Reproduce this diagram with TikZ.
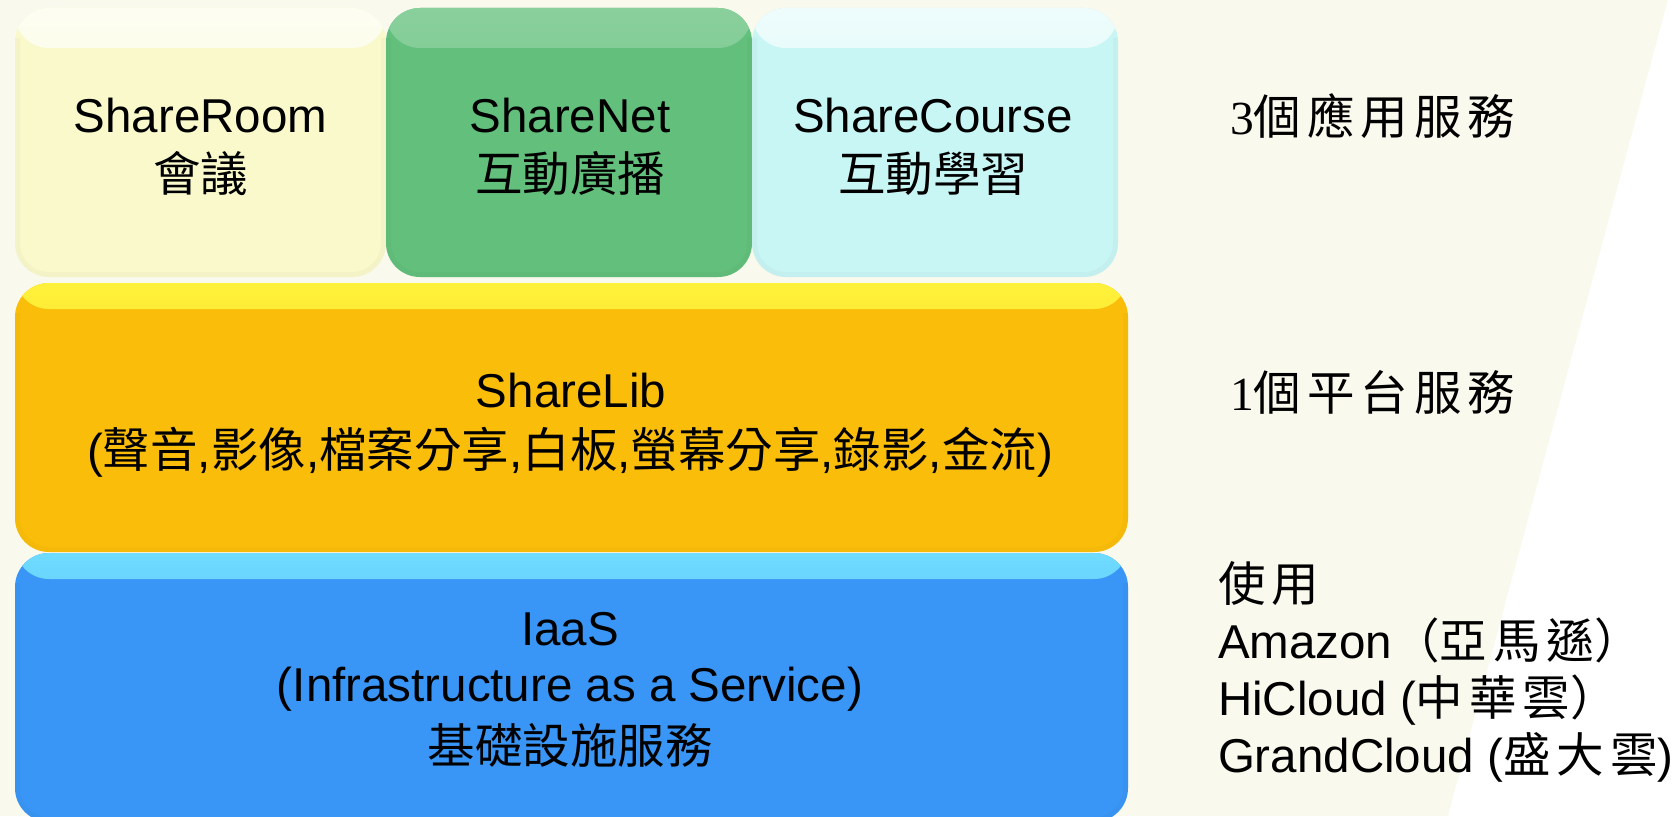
\documentclass[tikz,border=0pt]{standalone}
\usepackage{fontspec}
\setmainfont{Liberation Sans}
\newfontfamily\cjk{Noto Sans CJK TC}
\newfontfamily\serifdigit{Liberation Serif}
\newcommand\cjkgap{\hspace{6pt}}
\definecolor{bgcream}{HTML}{FAF9ED}
\definecolor{roomfill}{HTML}{F9F9CC}
\definecolor{netfill}{HTML}{63C07C}
\definecolor{coursefill}{HTML}{C8F6F5}
\definecolor{libfill}{HTML}{FABE0A}
\definecolor{liblight}{HTML}{FFF23C}
\definecolor{iaasfill}{HTML}{3A96F6}
\definecolor{iaaslight}{HTML}{70DCFF}
\tikzset{
  layerbox/.style={rectangle, rounded corners=34pt, inner sep=0pt, outer sep=0pt, draw=none},
  tophl/.style n args={3}{path picture={
    \shade[top color=#1, middle color=#1!25!#2, bottom color=#2]
      ([yshift=2pt]path picture bounding box.north west) rectangle ([yshift=-#3]path picture bounding box.north east);
    \draw[line width=10pt, #2!85!black, opacity=0.15]
      ([yshift=-30pt]path picture bounding box.north west) -- (path picture bounding box.south west)
      -- (path picture bounding box.south east) -- ([yshift=-30pt]path picture bounding box.north east);
  }},
  lbl/.style={inner sep=0pt, outer sep=0pt, anchor=base, font=\fontsize{47.5}{57}\selectfont},
}
\begin{document}
\begin{tikzpicture}[x=1pt,y=-1pt]
\useasboundingbox (0,0) rectangle (1672,816);
\fill[bgcream] (0,0) rectangle (1672,816);
\fill[white] (1668,0) -- (1672,0) -- (1672,816) -- (1448,816) -- cycle;

% top row: three application services
\node[layerbox, fill=roomfill, minimum width=371pt, minimum height=269pt, tophl={roomfill!25!white}{roomfill}{40pt}] (room) at (200.5,142.5) {};
\node[layerbox, fill=netfill, minimum width=366pt, minimum height=269pt, tophl={netfill!75!white}{netfill}{40pt}] (net) at (569,142.5) {};
\node[layerbox, fill=coursefill, minimum width=366pt, minimum height=269pt, tophl={coursefill!30!white}{coursefill}{40pt}] (course) at (935,142.5) {};
% platform
\node[layerbox, fill=libfill, minimum width=1113pt, minimum height=269pt, tophl={liblight}{libfill}{26pt}] (lib) at (571.5,417.5) {};
% iaas
\node[layerbox, fill=iaasfill, minimum width=1113pt, minimum height=269pt, tophl={iaaslight}{iaasfill}{26pt}] (iaas) at (571.5,687.5) {};

% texts in boxes
\node[lbl] (roomA) at (200.5,132.5) {ShareRoom};
\node[lbl] (roomB) at (200.5,191) {\cjk 會議};
\node[lbl] (netA) at (570,132.5) {ShareNet};
\node[lbl] (netB) at (570,191) {\cjk 互動廣播};
\node[lbl] (courseA) at (933,132.5) {ShareCourse};
\node[lbl] (courseB) at (933,191) {\cjk 互動學習};
\node[lbl] (libA) at (571,407) {ShareLib};
\node[lbl] (libB) at (570,467) {({\cjk 聲音},{\cjk 影像},{\cjk 檔案分享},{\cjk 白板},{\cjk 螢幕分享},{\cjk 錄影},{\cjk 金流})};
\node[lbl] (iaasA) at (570,645) {IaaS};
\node[lbl] (iaasB) at (570,701) {(Infrastructure as a Service)};
\node[lbl] (iaasC) at (570,763) {\cjk 基礎設施服務};

% right labels
\node[lbl, anchor=base west] (appl) at (1230,134) {{\serifdigit 3}\cjk 個\cjkgap 應\cjkgap 用\cjkgap 服\cjkgap 務};
\node[lbl, anchor=base west] (plat) at (1230,410) {{\serifdigit 1}\cjk 個\cjkgap 平\cjkgap 台\cjkgap 服\cjkgap 務};
\node[lbl, anchor=base west] (useA) at (1218,601) {\cjk 使\cjkgap 用};
\node[lbl, anchor=base west] (useB) at (1218,658) {Amazon{\cjk （亞\cjkgap 馬\cjkgap 遜）}};
\node[lbl, anchor=base west] (useC) at (1218,715) {HiCloud ({\cjk 中\cjkgap 華\cjkgap 雲）}};
\node[lbl, anchor=base west] (useD) at (1218,772) {GrandCloud ({\cjk 盛\cjkgap 大\cjkgap 雲})};
\end{tikzpicture}
\end{document}
